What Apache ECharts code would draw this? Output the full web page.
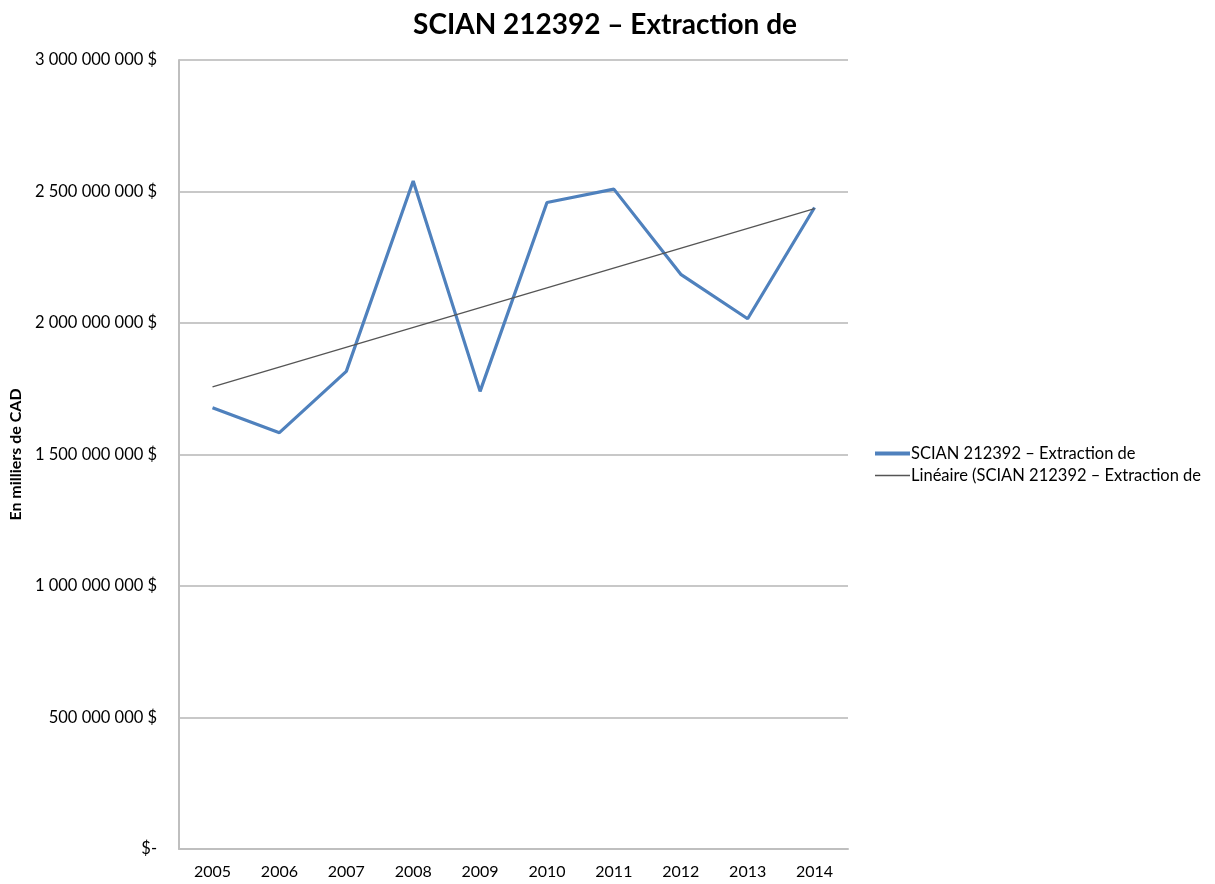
<!DOCTYPE html>
<html>
<head>
<meta charset="utf-8">
<script src="https://cdn.jsdelivr.net/npm/echarts@6/dist/echarts.min.js"></script>
<style>
  html, body { margin: 0; padding: 0; background: #fff; }
  #chart { width: 1215px; height: 884px; }
</style>
</head>
<body>
<div id="chart"></div>
<script>
// valeurs
var years = ['2005', '2006', '2007', '2008', '2009', '2010', '2011', '2012', '2013', '2014']
var seriesName = 'SCIAN 212392 – Extraction de'
var trendName = 'Linéaire (SCIAN 212392 – Extraction de'
var values = [1678000000, 1583000000, 1816000000, 2540000000, 1740000000,
  2458000000, 2509000000, 2185000000, 2016000000, 2439000000]
// droite de tendance : extrémités
var trendValues = [1757000000, null, null, null, null, null, null, null, null, 2435000000]
var yTicks = [0, 500000000, 1000000000, 1500000000, 2000000000, 2500000000, 3000000000]

function fmtMoney(v) {
  if (v === 0) return '$-'
  return String(v).replace(/\B(?=(\d{3})+(?!\d))/g, ' ') + ' $'
}

var chart = echarts.init(document.getElementById('chart'))
chart.setOption({
  animation: false,
  textStyle: { fontFamily: 'Lato, sans-serif' },
  title: {
    text: seriesName,
    left: 600,
    top: 6,
    textAlign: 'center',
    textStyle: { fontSize: 28, fontWeight: 'bold', color: '#000', fontFamily: 'Lato, sans-serif' }
  },
  legend: {
    orient: 'vertical',
    left: 868,
    top: 440,
    itemWidth: 35,
    itemHeight: 14,
    itemGap: 5,
    data: [
      { name: seriesName, lineStyle: { width: 4 } },
      { name: trendName, lineStyle: { width: 1.5 } }
    ],
    itemStyle: { opacity: 0 },
    textStyle: { fontSize: 16.5, color: '#000', padding: [0, 0, 0, -4] }
  },
  grid: {
    left: 178,
    right: 367,
    top: 60,
    bottom: 35
  },
  xAxis: {
    type: 'category',
    data: years,
    boundaryGap: true,
    axisLine: { lineStyle: { color: '#bfbfbf', width: 2 } },
    axisTick: { show: false },
    axisLabel: { color: '#000', fontSize: 16, margin: 15 }
  },
  yAxis: {
    type: 'value',
    min: yTicks[0],
    max: yTicks[yTicks.length - 1],
    interval: yTicks[1] - yTicks[0],
    name: 'En milliers de CAD',
    nameLocation: 'middle',
    nameGap: 153,
    nameTextStyle: { fontSize: 16, fontWeight: 'bold', color: '#000' },
    axisLine: { show: true, lineStyle: { color: '#bfbfbf', width: 2 } },
    axisTick: { show: false },
    axisLabel: { color: '#000', fontSize: 16.5, margin: 22, formatter: fmtMoney },
    splitLine: { lineStyle: { color: '#c8c8c8', width: 2 } }
  },
  series: [
    {
      name: seriesName,
      type: 'line',
      data: values,
      symbol: 'none',
      lineStyle: { color: '#4f81bd', width: 3.2 },
      itemStyle: { color: '#4f81bd' }
    },
    {
      name: trendName,
      type: 'line',
      data: trendValues,
      connectNulls: true,
      symbol: 'none',
      lineStyle: { color: '#555555', width: 1.3 },
      itemStyle: { color: '#555555' }
    }
  ]
})
</script>
</body>
</html>
